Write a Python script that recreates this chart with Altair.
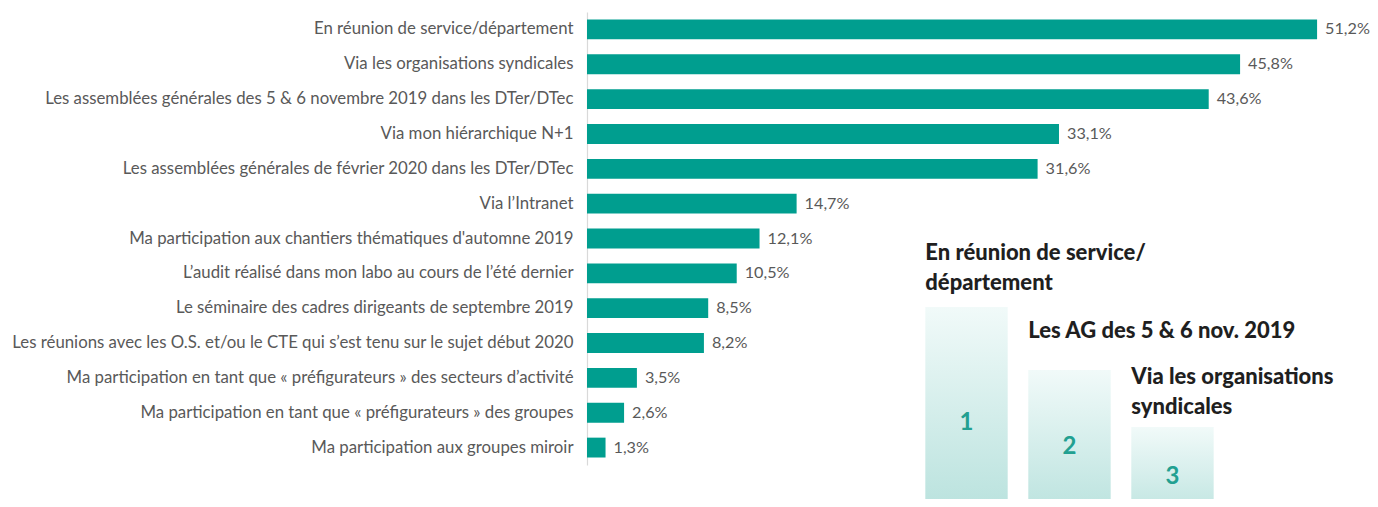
import altair as alt
import pandas as pd

categories = [
    "En réunion de service/département",
    "Via les organisations syndicales",
    "Les assemblées générales des 5 & 6 novembre 2019 dans les DTer/DTec",
    "Via mon hiérarchique N+1",
    "Les assemblées générales de février 2020 dans les DTer/DTec",
    "Via l’Intranet",
    "Ma participation aux chantiers thématiques d'automne 2019",
    "L’audit réalisé dans mon labo au cours de l’été dernier",
    "Le séminaire des cadres dirigeants de septembre 2019",
    "Les réunions avec les O.S. et/ou le CTE qui s’est tenu sur le sujet début 2020",
    "Ma participation en tant que « préfigurateurs » des secteurs d’activité",
    "Ma participation en tant que « préfigurateurs » des groupes",
    "Ma participation aux groupes miroir",
]
values = [51.2, 45.8, 43.6, 33.1, 31.6, 14.7, 12.1, 10.5, 8.5, 8.2, 3.5, 2.6, 1.3]

# Podium inset (decorative ranking graphic)
podium_rank = [1, 2, 3]
podium_height = [10.0, 6.85, 4.0]
podium_number_y = [4.2, 3.0, 1.5]
podium_labels = ["En réunion de service/\ndépartement", "Les AG des 5 & 6 nov. 2019", "Via les organisations\nsyndicales"]
podium_label_y = [12.7, 8.8, 6.5]

TEAL = "#009e8f"
GREY = "#595959"
FONT = "Lato"

df = pd.DataFrame({"cat": categories, "val": values})
df["lab"] = df["val"].map(lambda v: f"{v:.1f}".replace(".", ",") + "%")

pod = pd.DataFrame({
    "rank": podium_rank,
    "h": podium_height,
    "ny": podium_number_y,
    "label": podium_labels,
    "ly": podium_label_y,
    "num": [str(r) for r in podium_rank],
})
pod["x0"] = pod["rank"] - 0.4
pod["x1"] = pod["rank"] + 0.4
pod["base"] = -1.5

xs = alt.Scale(domain=[0, 54.42])
ys = alt.Scale(paddingInner=0.43, paddingOuter=0.215)

base = alt.Chart(df)
bars = base.mark_bar(color=TEAL).encode(
    x=alt.X("val:Q", scale=xs, axis=None),
    y=alt.Y("cat:N", sort=categories, scale=ys,
            axis=alt.Axis(title=None, ticks=False, labelPadding=14, labelFontSize=16.8,
                          labelColor=GREY, labelFont=FONT, labelLimit=700,
                          domainColor="#d9d9d9", domainWidth=1.2)),
)
texts = base.mark_text(align="left", baseline="middle", dx=8, fontSize=16.2, font=FONT, color=GREY).encode(
    x=alt.X("val:Q", scale=xs, axis=None),
    y=alt.Y("cat:N", sort=categories, scale=ys),
    text="lab:N",
)
main = alt.layer(bars, texts)

pxs = alt.Scale(domain=[-2.685, 4.85])
pys = alt.Scale(domain=[2.1, 24.75])
pbase = alt.Chart(pod)
grad = alt.Gradient(
    gradient="linear",
    stops=[alt.GradientStop(color="#f1faf9", offset=0), alt.GradientStop(color="#b2dfda", offset=1)],
    x1=0, x2=0, y1=0, y2=1,
)
prect = pbase.mark_rect(color=grad).encode(
    x=alt.X("x0:Q", scale=pxs, axis=None), x2="x1:Q",
    y=alt.Y("base:Q", scale=pys, axis=None), y2="h:Q",
)
pnum = pbase.mark_text(font=FONT, fontWeight="bold", fontSize=24, color="#22a091",
                       baseline="middle", align="center").encode(
    x=alt.X("rank:Q", scale=pxs, axis=None),
    y=alt.Y("ny:Q", scale=pys, axis=None),
    text="num:N",
)
plab = pbase.mark_text(font=FONT, fontWeight=900, fontSize=22, color="#1f1f1f",
                       baseline="middle", align="left", lineBreak="\n", lineHeight=30).encode(
    x=alt.X("x0:Q", scale=pxs, axis=None),
    y=alt.Y("ly:Q", scale=pys, axis=None),
    text="label:N",
)
podium = alt.layer(prect, pnum, plab)

chart = alt.layer(main, podium).resolve_scale(x="independent", y="independent").properties(
    width=776, height=453,
    autosize=alt.AutoSizeParams(type="none"),
    padding={"left": 579, "top": 4, "right": 7, "bottom": 34},
).configure_view(stroke=None)

chart.save("out.html", embed_options={"renderer": "svg", "actions": False})
